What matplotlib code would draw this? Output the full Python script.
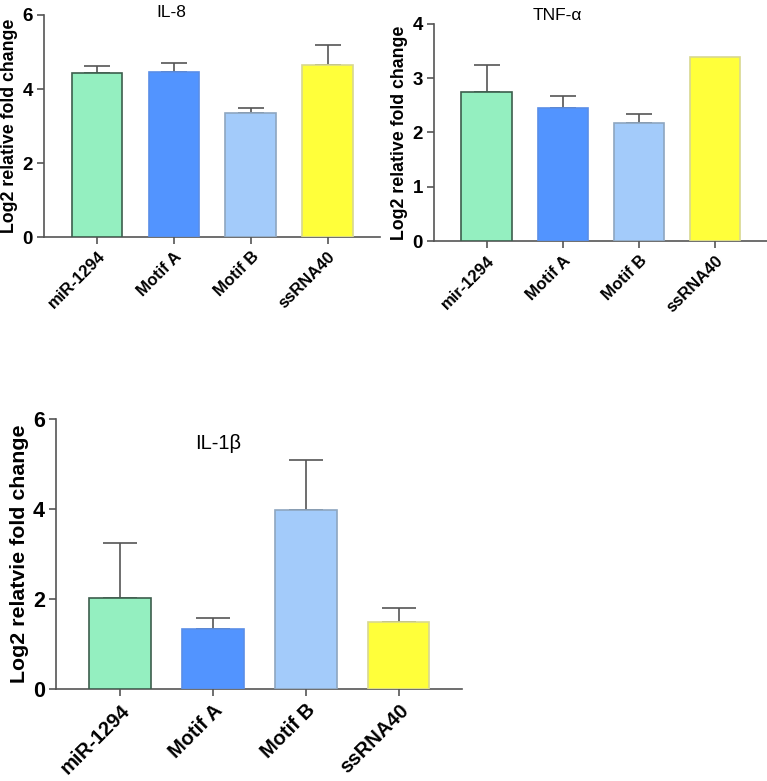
import numpy as np
import matplotlib.pyplot as plt

plt.rcParams['font.family'] = ['Liberation Sans', 'DejaVu Sans']

# Данные
labels_il8 = ['miR-1294', 'Motif A', 'Motif B', 'ssRNA40']
labels_tnf = ['mir-1294', 'Motif A', 'Motif B', 'ssRNA40']
labels_il1b = ['miR-1294', 'Motif A', 'Motif B', 'ssRNA40']

il8_mean = [4.43, 4.46, 3.34, 4.66]
il8_sem = [0.18, 0.23, 0.16, 0.52]

tnf_mean = [2.75, 2.45, 2.18, 3.39]
tnf_sem = [0.49, 0.22, 0.17, None]

il1b_mean = [2.03, 1.33, 3.98, 1.49]
il1b_sem = [1.21, 0.25, 1.11, 0.30]

fill_colors = ['#94EFC0', '#5294FF', '#A3CBFA', '#FFFF3A']
edge_colors = ['#3d5e4d', '#5a8ee8', '#8ea6c0', '#d8d890']


def bar_panel(ax, labels, means, sems, title, ylabel, ymax, yticks,
              title_xy, fs_xtick, fs_ytick, fs_label, fs_title, cap):
    x = np.arange(len(labels))
    ax.bar(x, means, width=0.66, color=fill_colors, edgecolor=edge_colors,
           linewidth=1.2, zorder=3)
    for xi, m, s in zip(x, means, sems):
        if s is None:
            continue
        ax.errorbar(xi, m, yerr=[[0], [s]], fmt='none', ecolor='#555555',
                    elinewidth=1.2, capsize=cap, capthick=1.2, zorder=2)
    ax.set_xlim(-0.69, 3.68)
    ax.set_ylim(0, ymax)
    ax.set_yticks(yticks)
    ax.set_xticks(x)
    ax.set_xticklabels(labels, rotation=45, ha='right', rotation_mode='anchor',
                       fontsize=fs_xtick, fontweight='bold')
    for t in ax.get_yticklabels():
        t.set_fontweight('bold')
        t.set_fontsize(fs_ytick)
    ax.set_ylabel(ylabel, fontsize=fs_label, fontweight='bold', labelpad=3)
    ax.spines['top'].set_visible(False)
    ax.spines['right'].set_visible(False)
    for sp in ['left', 'bottom']:
        ax.spines[sp].set_color('#555555')
        ax.spines[sp].set_linewidth(1.2)
    ax.tick_params(axis='both', direction='out', length=5, width=1.2, color='#555555')
    ax.tick_params(axis='y', pad=3)
    ax.text(title_xy[0], title_xy[1], title, transform=ax.transAxes,
            fontsize=fs_title, ha='center', va='center', clip_on=False)


fig = plt.figure(figsize=(7.67, 7.81), dpi=100)

ax1 = fig.add_axes([0.0574, 0.6965, 0.438, 0.2843])
bar_panel(ax1, labels_il8, il8_mean, il8_sem, 'IL-8', 'Log2 relative fold change',
          6, [0, 2, 4, 6], (0.38, 1.01), 12, 13.5, 12.8, 12.5, 9.7)

ax2 = fig.add_axes([0.5658, 0.6914, 0.434, 0.2779])
bar_panel(ax2, labels_tnf, tnf_mean, tnf_sem, 'TNF-α', 'Log2 relative fold change',
          4, [0, 1, 2, 3, 4], (0.37, 1.04), 12, 13.5, 12.8, 12.5, 9.7)

ax3 = fig.add_axes([0.0730, 0.1178, 0.5293, 0.3457])
bar_panel(ax3, labels_il1b, il1b_mean, il1b_sem, 'IL-1β', 'Log2 relatvie fold change',
          6, [0, 2, 4, 6], (0.40, 0.91), 14.5, 15.5, 15.4, 14.5, 12)

fig.savefig('out.png', dpi=100)
